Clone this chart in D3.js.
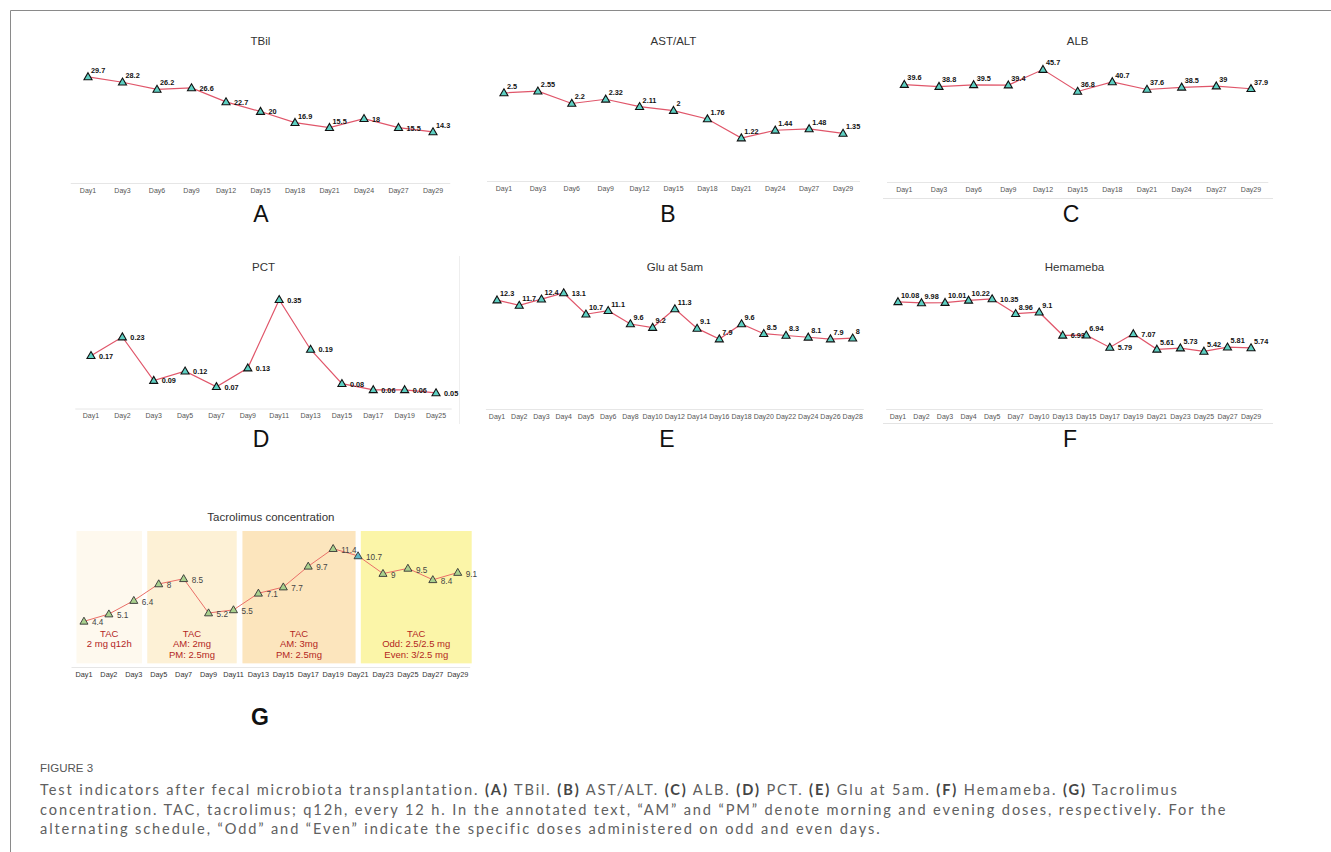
<!DOCTYPE html>
<html>
<head>
<meta charset="utf-8">
<script src="https://cdn.jsdelivr.net/npm/d3@7"></script>
<style>
  body { margin: 0; background: #fff; }
  svg { display: block; font-family: "Liberation Sans", Arial, Helvetica, sans-serif; }
  .tick-label { fill: #555; font-size: 7px; }
  .title { fill: #333; font-size: 11.5px; }
  .letter { fill: #111; font-size: 23px; }
  .val { fill: #111; font-size: 7.3px; font-weight: bold; }
  .caption { fill: #606060; font-family: Lato, "Open Sans", sans-serif; }
</style>
</head>
<body>
<script>
// ---- data ----
var tbilDays = ["Day1", "Day3", "Day6", "Day9", "Day12", "Day15", "Day18", "Day21", "Day24", "Day27", "Day29"];
var tbilValues = [29.7, 28.2, 26.2, 26.6, 22.7, 20, 16.9, 15.5, 18, 15.5, 14.3];

var astAltDays = tbilDays;
var astAltValues = [2.5, 2.55, 2.2, 2.32, 2.11, 2, 1.76, 1.22, 1.44, 1.48, 1.35];

var albDays = tbilDays;
var albValues = [39.6, 38.8, 39.5, 39.4, 45.7, 36.8, 40.7, 37.6, 38.5, 39, 37.9];

var pctDays = ["Day1", "Day2", "Day3", "Day5", "Day7", "Day9", "Day11", "Day13", "Day15", "Day17", "Day19", "Day25"];
var pctValues = [0.17, 0.23, 0.09, 0.12, 0.07, 0.13, 0.35, 0.19, 0.08, 0.06, 0.06, 0.05];

var gluDays = ["Day1", "Day2", "Day3", "Day4", "Day5", "Day6", "Day8", "Day10", "Day12", "Day14", "Day16", "Day18", "Day20", "Day22", "Day24", "Day26", "Day28"];
var gluValues = [12.3, 11.7, 12.4, 13.1, 10.7, 11.1, 9.6, 9.2, 11.3, 9.1, 7.9, 9.6, 8.5, 8.3, 8.1, 7.9, 8];

var hemDays = ["Day1", "Day2", "Day3", "Day4", "Day5", "Day7", "Day10", "Day13", "Day15", "Day17", "Day19", "Day21", "Day23", "Day25", "Day27", "Day29"];
var hemValues = [10.08, 9.98, 10.01, 10.22, 10.35, 8.96, 9.1, 6.93, 6.94, 5.79, 7.07, 5.61, 5.73, 5.42, 5.81, 5.74];

var tacDays = ["Day1", "Day2", "Day3", "Day5", "Day7", "Day9", "Day11", "Day13", "Day15", "Day17", "Day19", "Day21", "Day23", "Day25", "Day27", "Day29"];
var tacValues = [4.4, 5.1, 6.4, 8, 8.5, 5.2, 5.5, 7.1, 7.7, 9.7, 11.4, 10.7, 9, 9.5, 8.4, 9.1];

// dosing phases: span given in x-axis index units
var tacPhaseLabels = [["TAC", "2 mg q12h"], ["TAC", "AM: 2mg", "PM: 2.5mg"], ["TAC", "AM: 3mg", "PM: 2.5mg"], ["TAC", "Odd: 2.5/2.5 mg", "Even: 3/2.5 mg"]];
var tacPhaseSpans = [[-0.3, 2.33], [2.54, 6.13], [6.36, 10.9], [11.11, 15.56]];
var tacPhaseColors = ["#fef9ee", "#fdf1d6", "#fce5bd", "#fbf5a8"];

// label placement: u = above right, r = right
var tbilPlace = "uuurrruurru";
var gluPlace = "uuuruuuuuuuuuuuuu";
var hemPlace = "uuuuruururruuuuu";

var width = 1331, height = 852;

var svg = d3.select("body").append("svg")
    .attr("width", width)
    .attr("height", height);

// frame of the figure
svg.append("path")
    .attr("d", "M10.5,852 L10.5,10.5 L1331,10.5")
    .attr("fill", "none")
    .attr("stroke", "#8a8a8a")
    .attr("stroke-width", 1);

// faint table borders
svg.append("line").attr("x1", 883).attr("x2", 1273).attr("y1", 198.5).attr("y2", 198.5).attr("stroke", "#e4e4e4");
svg.append("line").attr("x1", 883).attr("x2", 1273).attr("y1", 423.5).attr("y2", 423.5).attr("stroke", "#e4e4e4");
svg.append("line").attr("x1", 459.5).attr("x2", 459.5).attr("y1", 256).attr("y2", 424).attr("stroke", "#eeeeee");

var panels = [
    {letter: "A", title: "TBil", days: tbilDays, values: tbilValues, place: tbilPlace, yMax: 34.7, range: [70.75, 450.25], base: 183, titleY: 42, letterX: 261, letterY: 216},
    {letter: "B", title: "AST/ALT", days: astAltDays, values: astAltValues, place: "u", yMax: 3.52, range: [487, 860], base: 181, titleY: 42, letterX: 668, letterY: 216},
    {letter: "C", title: "ALB", days: albDays, values: albValues, place: "u", yMax: 50.4, range: [887, 1268.3], base: 182, titleY: 42, letterX: 1071, letterY: 216},
    {letter: "D", title: "PCT", days: pctDays, values: pctValues, place: "r", yMax: 0.399, range: [75.3, 451.7], base: 408.5, titleY: 268, letterX: 261, letterY: 441},
    {letter: "E", title: "Glu at 5am", days: gluDays, values: gluValues, place: gluPlace, yMax: 14, range: [485.9, 863.8], base: 409, titleY: 268, letterX: 667, letterY: 441},
    {letter: "F", title: "Hemameba", days: hemDays, values: hemValues, place: hemPlace, yMax: 11.66, range: [886.2, 1262.8], base: 409, titleY: 268, letterX: 1070, letterY: 441}
];

var triangle = d3.symbol().type(d3.symbolTriangle).size(28);

panels.forEach(function(p) {
    var g = svg.append("g");

    var x = d3.scaleBand().domain(p.days).range(p.range).padding(0);
    var y = d3.scaleLinear().domain([0, p.yMax]).range([p.base, p.base - 124]);
    var cx = function(d, i) { return x(p.days[i]) + x.bandwidth() / 2; };

    // baseline + tick labels
    g.append("line")
        .attr("x1", p.range[0]).attr("x2", p.range[1])
        .attr("y1", p.base + 0.5).attr("y2", p.base + 0.5)
        .attr("stroke", "#e6e6e6");

    var xAxis = d3.axisBottom(x).tickSize(0).tickPadding(5);
    g.append("g")
        .attr("transform", "translate(0," + p.base + ")")
        .call(xAxis)
        .call(function(a) { a.select(".domain").remove(); })
        .selectAll("text")
        .attr("class", "tick-label")
        .attr("font-family", null)
        .attr("font-size", null)
        .attr("fill", null);

    // title
    g.append("text")
        .attr("class", "title")
        .attr("x", (p.range[0] + p.range[1]) / 2)
        .attr("y", p.titleY)
        .attr("text-anchor", "middle")
        .attr("dominant-baseline", "middle")
        .text(p.title);

    // line
    var line = d3.line()
        .x(cx)
        .y(function(d) { return y(d); });
    g.append("path")
        .datum(p.values)
        .attr("d", line)
        .attr("fill", "none")
        .attr("stroke", "#e0566a")
        .attr("stroke-width", 1.2);

    // markers
    g.selectAll(".mk")
        .data(p.values)
        .enter()
        .append("path")
        .attr("d", triangle)
        .attr("transform", function(d, i) { return "translate(" + cx(d, i) + "," + (y(d) + 0.5) + ")"; })
        .attr("fill", "#5ed0c3")
        .attr("stroke", "#111")
        .attr("stroke-width", 1.1);

    // value labels
    g.selectAll(".val")
        .data(p.values)
        .enter()
        .append("text")
        .attr("class", "val")
        .attr("x", function(d, i) {
            var side = p.place.length > 1 ? p.place[i] : p.place;
            return cx(d, i) + (side == "u" ? 3 : 8);
        })
        .attr("y", function(d, i) {
            var side = p.place.length > 1 ? p.place[i] : p.place;
            return y(d) + (side == "u" ? -6 : 1);
        })
        .attr("dominant-baseline", "middle")
        .text(function(d) { return d; });

    // panel letter
    g.append("text")
        .attr("class", "letter")
        .attr("x", p.letterX)
        .attr("y", p.letterY)
        .attr("text-anchor", "middle")
        .attr("dominant-baseline", "middle")
        .text(p.letter);
});

// ---- panel G: tacrolimus concentration ----
(function() {
    var g = svg.append("g");
    var range = [71.5, 470.2], base = 667;

    var x = d3.scaleBand().domain(tacDays).range(range).padding(0);
    var xi = d3.scaleLinear().domain([0, tacDays.length - 1])
        .range([range[0] + x.bandwidth() / 2, range[1] - x.bandwidth() / 2]);
    var y = d3.scaleLinear().domain([0, 13.1]).range([base, 531]);
    var cx = function(d, i) { return xi(i); };

    // phase backgrounds
    g.selectAll(".phase")
        .data(tacPhaseSpans)
        .enter()
        .append("rect")
        .attr("x", function(d) { return xi(d[0]); })
        .attr("width", function(d) { return xi(d[1]) - xi(d[0]); })
        .attr("y", y(13.1))
        .attr("height", y(0.35) - y(13.1))
        .attr("fill", function(d, i) { return tacPhaseColors[i]; });

    // phase labels
    tacPhaseSpans.forEach(function(s, k) {
        tacPhaseLabels[k].forEach(function(txt, j) {
            g.append("text")
                .attr("x", (xi(s[0]) + xi(s[1])) / 2)
                .attr("y", base - 33 + j * 10.7)
                .attr("text-anchor", "middle")
                .attr("dominant-baseline", "middle")
                .attr("fill", "#b3261e")
                .attr("font-size", "9.5px")
                .text(txt);
        });
    });

    g.append("line")
        .attr("x1", range[0]).attr("x2", range[1])
        .attr("y1", base + 0.5).attr("y2", base + 0.5)
        .attr("stroke", "#e6e6e6");

    g.append("g")
        .attr("transform", "translate(0," + base + ")")
        .call(d3.axisBottom(x).tickSize(0).tickPadding(5))
        .call(function(a) { a.select(".domain").remove(); })
        .selectAll("text")
        .attr("font-family", null)
        .attr("font-size", "7.3px")
        .attr("fill", "#333");

    g.append("text")
        .attr("class", "title")
        .attr("x", (range[0] + range[1]) / 2)
        .attr("y", 517.5)
        .attr("text-anchor", "middle")
        .attr("dominant-baseline", "middle")
        .attr("font-size", "13px")
        .text("Tacrolimus concentration");

    g.append("path")
        .datum(tacValues)
        .attr("d", d3.line().x(cx).y(function(d) { return y(d); }))
        .attr("fill", "none")
        .attr("stroke", "#ea6f68")
        .attr("stroke-width", 1);

    var inPhase = function(i) {
        return tacPhaseSpans.some(function(s) { return i >= s[0] && i <= s[1]; });
    };

    g.selectAll(".mk")
        .data(tacValues)
        .enter()
        .append("path")
        .attr("d", triangle)
        .attr("transform", function(d, i) { return "translate(" + cx(d, i) + "," + (y(d) + 0.5) + ")"; })
        .attr("fill", function(d, i) { return inPhase(i) ? "#a9d18e" : "#5fb8c8"; })
        .attr("stroke", "#333")
        .attr("stroke-width", 0.9);

    g.selectAll(".tv")
        .data(tacValues)
        .enter()
        .append("text")
        .attr("x", function(d, i) { return cx(d, i) + 8; })
        .attr("y", function(d) { return y(d) + 2; })
        .attr("dominant-baseline", "middle")
        .attr("font-size", "8.2px")
        .attr("fill", "#444")
        .text(function(d) { return d; });

    g.append("text")
        .attr("class", "letter")
        .attr("x", 260)
        .attr("y", 719)
        .attr("text-anchor", "middle")
        .attr("dominant-baseline", "middle")
        .attr("font-size", "21px")
        .attr("font-weight", "bold")
        .text("G");
})();

// ---- caption ----
svg.append("text")
    .attr("x", 40)
    .attr("y", 772)
    .attr("fill", "#555")
    .attr("font-family", "'Liberation Sans Narrow', 'Liberation Sans', sans-serif")
    .attr("font-size", "11.5px")
    .text("FIGURE 3");

var captionLines = [
    [["Test indicators after fecal microbiota transplantation. ", 0], ["(A)", 1], [" TBil. ", 0], ["(B)", 1], [" AST/ALT. ", 0], ["(C)", 1], [" ALB. ", 0], ["(D)", 1], [" PCT. ", 0], ["(E)", 1], [" Glu at 5am. ", 0], ["(F)", 1], [" Hemameba. ", 0], ["(G)", 1], [" Tacrolimus", 0]],
    [["concentration. TAC, tacrolimus; q12h, every 12 h. In the annotated text, \u201cAM\u201d and \u201cPM\u201d denote morning and evening doses, respectively. For the", 0]],
    [["alternating schedule, \u201cOdd\u201d and \u201cEven\u201d indicate the specific doses administered on odd and even days.", 0]]
];
// right edge of the second caption line in the reference
var captionRight = 1228;

var capSize = 14.6;
captionLines.forEach(function(parts, i) {
    var t = svg.append("text")
        .attr("class", "caption caption-" + i)
        .attr("x", 40)
        .attr("y", 795 + i * 19.5)
        .attr("font-size", capSize + "px");
    parts.forEach(function(p) {
        t.append("tspan")
            .attr("font-weight", p[1] ? "bold" : null)
            .attr("fill", p[1] ? "#454545" : null)
            .text(p[0]);
    });
});
// the reference face is wide; widen with letter spacing instead of size
var ref = svg.select(".caption-1");
var w2 = ref.node().getComputedTextLength();
var n2 = ref.text().length;
var spacing = Math.max(0, (captionRight - 40 - w2) / n2);
svg.selectAll(".caption").attr("letter-spacing", spacing.toFixed(3) + "px");
</script>
</body>
</html>
